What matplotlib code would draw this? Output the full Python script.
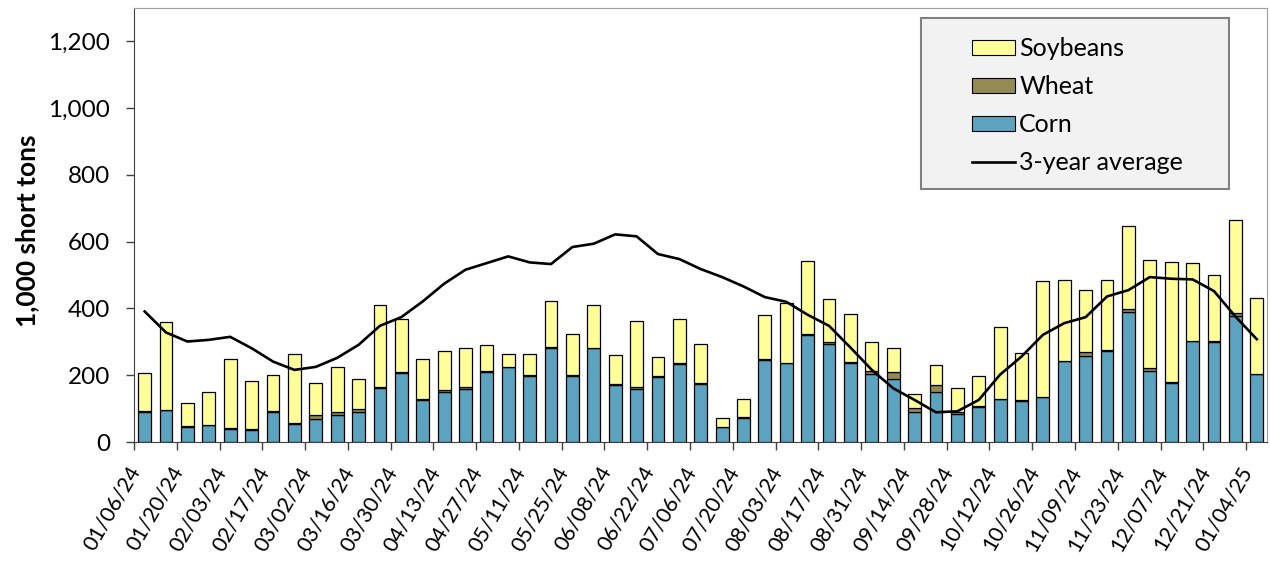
import matplotlib.pyplot as plt
from matplotlib.patches import Patch, Rectangle
from matplotlib.lines import Line2D
from matplotlib.ticker import FuncFormatter, FixedLocator
import numpy as np

plt.rcParams['font.family'] = ['Lato', 'DejaVu Sans']

weeks = ['01/06/24', '01/13/24', '01/20/24', '01/27/24', '02/03/24', '02/10/24',
         '02/17/24', '02/24/24', '03/02/24', '03/09/24', '03/16/24', '03/23/24',
         '03/30/24', '04/06/24', '04/13/24', '04/20/24', '04/27/24', '05/04/24',
         '05/11/24', '05/18/24', '05/25/24', '06/01/24', '06/08/24', '06/15/24',
         '06/22/24', '06/29/24', '07/06/24', '07/13/24', '07/20/24', '07/27/24',
         '08/03/24', '08/10/24', '08/17/24', '08/24/24', '08/31/24', '09/07/24',
         '09/14/24', '09/21/24', '09/28/24', '10/05/24', '10/12/24', '10/19/24',
         '10/26/24', '11/02/24', '11/09/24', '11/16/24', '11/23/24', '11/30/24',
         '12/07/24', '12/14/24', '12/21/24', '12/28/24', '01/04/25']

corn = [90, 95, 45, 50, 39, 37, 91, 54, 68, 80, 89, 163, 206, 127, 150, 158, 211,
        224, 199, 283, 199, 281, 172, 159, 196, 235, 175, 45, 72, 246, 237, 320,
        295, 237, 204, 190, 89, 150, 83, 105, 128, 123, 134, 242, 258, 273, 388,
        212, 178, 303, 300, 376, 203]

wheat = [3, 2, 2, 2, 2, 2, 3, 3, 12, 9, 10, 3, 5, 3, 7, 6, 3, 2, 3, 3, 2, 2, 2, 5,
         3, 3, 2, 1, 2, 4, 1, 5, 5, 4, 9, 19, 13, 20, 7, 4, 2, 2, 2, 1, 11, 2, 10,
         9, 2, 1, 2, 9, 2]

soybeans = [115, 261, 70, 99, 207, 144, 107, 207, 98, 135, 89, 245, 157, 120, 115,
            117, 76, 39, 63, 135, 122, 126, 86, 198, 55, 130, 116, 25, 54, 130, 178,
            218, 129, 143, 86, 74, 43, 60, 72, 88, 213, 141, 345, 243, 186, 210,
            249, 324, 360, 233, 199, 281, 225]

avg_3yr = [391, 328, 301, 306, 315, 281, 241, 216, 225, 252, 291, 348, 374, 421,
           474, 516, 536, 556, 538, 533, 584, 594, 622, 616, 563, 548, 518, 494,
           466, 434, 420, 381, 348, 283, 216, 161, 126, 89, 92, 126, 202, 256, 321,
           356, 374, 436, 455, 494, 489, 487, 452, 376, 308]

corn_color = '#5ba3be'
wheat_color = '#948a54'
soy_color = '#ffff99'

fig = plt.figure(figsize=(12.7, 5.62), dpi=100)
ax = fig.add_axes([0.1055, 0.2135, 0.8925, 0.7723])

x = np.arange(len(weeks))
corn_a = np.array(corn)
wheat_a = np.array(wheat)
soy_a = np.array(soybeans)

ax.bar(x, corn_a, width=0.6, color=corn_color, edgecolor='black', linewidth=0.9, zorder=2)
ax.bar(x, wheat_a, width=0.6, bottom=corn_a, color=wheat_color, edgecolor='black',
       linewidth=0.9, zorder=2)
ax.bar(x, soy_a, width=0.6, bottom=corn_a + wheat_a, color=soy_color, edgecolor='black',
       linewidth=0.9, zorder=2)
ax.plot(x, avg_3yr, color='black', linewidth=1.9, zorder=3)

ax.set_xlim(-0.5, len(weeks) - 0.5)
ax.set_ylim(0, 1300)
ax.set_yticks(range(0, 1201, 200))
ax.yaxis.set_major_formatter(FuncFormatter(lambda v, p: f'{int(v):,}'))
ax.tick_params(axis='y', labelsize=17.5, length=6, width=1, color='#404040', pad=11)

# ticks between every second week, labels on every second week
ax.xaxis.set_major_locator(FixedLocator(np.arange(-0.5, len(weeks), 2)))
ax.xaxis.set_major_formatter(FuncFormatter(lambda v, p: ''))
ax.set_xticks(x[::2], minor=True)
ax.set_xticklabels(weeks[::2], minor=True, rotation=60, ha='right', fontsize=15.5)
ax.tick_params(axis='x', which='major', length=6, width=1, color='#404040')
ax.tick_params(axis='x', which='minor', length=0, pad=15)

for side in ['top', 'right']:
    ax.spines[side].set_color('#a0a0a0')
for side in ['left', 'bottom']:
    ax.spines[side].set_color('#404040')

fig.text(27 / 1270, 1 - 231 / 562, '1,000 short tons', rotation=90, fontsize=19,
         fontweight='bold', ha='center', va='center')

# legend box
ax.add_patch(Rectangle((0.6946, 0.584), 0.2714, 0.393, transform=ax.transAxes,
                       facecolor='#f2f2f2', edgecolor='#808080', linewidth=1.5, zorder=4))
handles = [Patch(facecolor=soy_color, edgecolor='black', linewidth=0.8),
           Patch(facecolor=wheat_color, edgecolor='black', linewidth=0.8),
           Patch(facecolor=corn_color, edgecolor='black', linewidth=0.8),
           Line2D([0], [0], color='black', linewidth=1.9)]
leg = ax.legend(handles, ['Soybeans', 'Wheat', 'Corn', '3-year average'],
                loc='upper left', bbox_to_anchor=(0.722, 0.979), frameon=False,
                fontsize=18, handlelength=1.72, handleheight=0.55,
                handletextpad=0.16, labelspacing=0.6, borderpad=0.3)
leg.set_zorder(5)

fig.savefig('out.png', dpi=100)
